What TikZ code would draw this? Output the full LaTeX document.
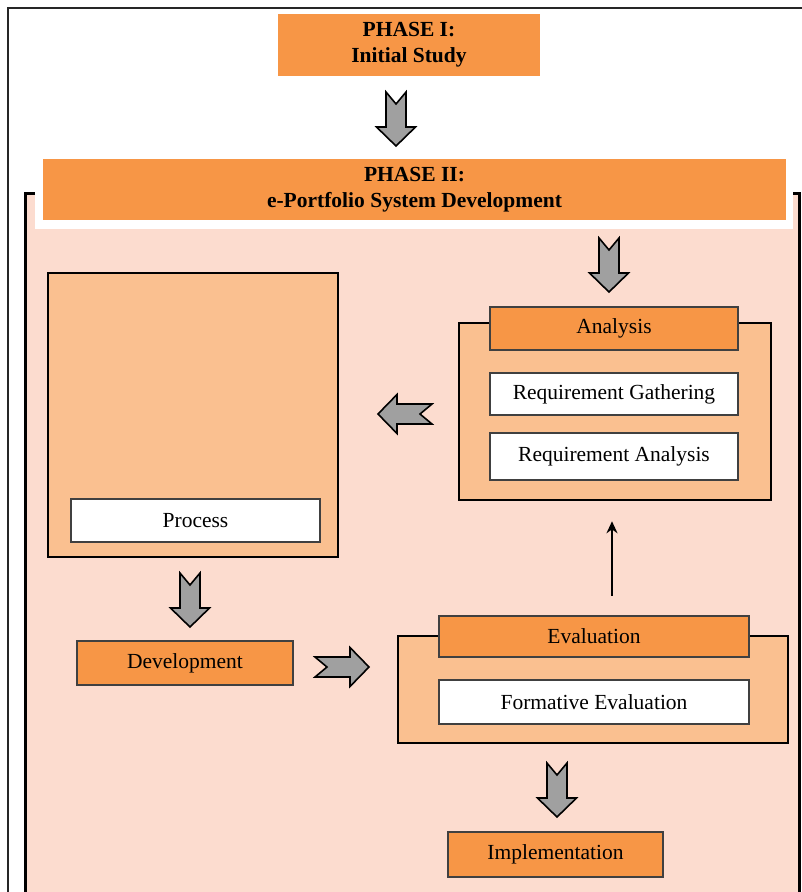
\documentclass[tikz,border=0pt]{standalone}
\usepackage{fontspec}
\setmainfont{Liberation Serif}
\usetikzlibrary{arrows.meta,calc}
\definecolor{orangeA}{HTML}{F79646}
\definecolor{orangeL}{HTML}{FAC090}
\definecolor{pinkBG}{HTML}{FCDCCF}
\definecolor{boxgray}{HTML}{404040}
\definecolor{arrowgray}{HTML}{A0A0A0}
\tikzset{
 txt/.style={font=\fontsize{21.5}{25}\selectfont, align=center, inner sep=0pt, anchor=center},
 phasebox/.style={txt, fill=orangeA, font=\bfseries\fontsize{21.5}{26}\selectfont},
 outerbox/.style={draw=black, line width=2.5pt, fill=orangeL, inner sep=0pt, anchor=center},
 headbox/.style={txt, draw=boxgray, line width=2.5pt, fill=orangeA},
 itembox/.style={txt, draw=boxgray, line width=2.5pt, fill=white},
 thinarrow/.style={-{Stealth[length=12pt,width=11pt]}, line width=2pt, black},
 blockarrow/.pic={\draw[draw=black, fill=arrowgray, line width=1.6pt, line join=miter]
   (0,-10) -- (35,-10) -- (35,-19.5) -- (54,0) -- (35,19.5) -- (35,10) -- (0,10) -- (12,0) -- cycle;},
}
\begin{document}
\begin{tikzpicture}[x=1pt,y=-1pt]
\useasboundingbox (0,0) rectangle (802,892);
\clip (0,0) rectangle (802,892);
% outer thin frame
\draw[line width=1.2pt, black!85] (8,8) rectangle (830,930);
% phase II container
\draw[line width=3pt, fill=pinkBG] (25,193) rectangle (799,930);
\fill[white] (35,140) rectangle (793,229);
% phase boxes
\node[phasebox, minimum width=262pt, minimum height=62pt] (phase1) at (409,45) {PHASE I:\\Initial Study};
\node[phasebox, minimum width=743pt, minimum height=61pt] (phase2) at (414.5,189.5) {PHASE II:\\e-Portfolio System Development};
% analysis group
\node[outerbox, minimum width=312pt, minimum height=177pt] (anaOuter) at (615,411.5) {};
\node[headbox, minimum width=248pt, minimum height=43pt] (anaHead) at (614,328.5) {Analysis};
\node[itembox, minimum width=248pt, minimum height=42pt] (reqG) at (614,394) {Requirement Gathering};
\node[itembox, minimum width=248pt, minimum height=47pt] (reqA) at (614,456.5) {Requirement Analysis};
% process group
\node[outerbox, minimum width=290pt, minimum height=284pt] (procOuter) at (193,415) {};
\node[itembox, minimum width=249pt, minimum height=43pt] (proc) at (195.5,520.5) {Process};
% development
\node[headbox, minimum width=216pt, minimum height=44pt] (dev) at (185,663) {Development};
% evaluation group
\node[outerbox, minimum width=390pt, minimum height=107pt] (evalOuter) at (593,689.5) {};
\node[headbox, minimum width=310pt, minimum height=41pt] (evalHead) at (594,636.5) {Evaluation};
\node[itembox, minimum width=310pt, minimum height=44pt] (form) at (594,702) {Formative Evaluation};
% implementation
\node[headbox, minimum width=215pt, minimum height=45pt] (impl) at (555.5,854.5) {Implementation};
% block arrows
\pic[rotate=-90] (a1) at (396,92) {blockarrow};
\pic[rotate=-90] (a2) at (609,238) {blockarrow};
\pic[rotate=180] (a3) at (432,414) {blockarrow};
\pic[rotate=-90] (a4) at (190,573) {blockarrow};
\pic[rotate=0] (a5) at (315,667) {blockarrow};
\pic[rotate=-90] (a6) at (557,763) {blockarrow};
% thin arrow evaluation -> analysis
\draw[thinarrow, shorten <=19pt, shorten >=20pt] ([xshift=18pt]evalHead.north) -- ([xshift=18pt]evalHead.north |- anaOuter.south);
\end{tikzpicture}
\end{document}
